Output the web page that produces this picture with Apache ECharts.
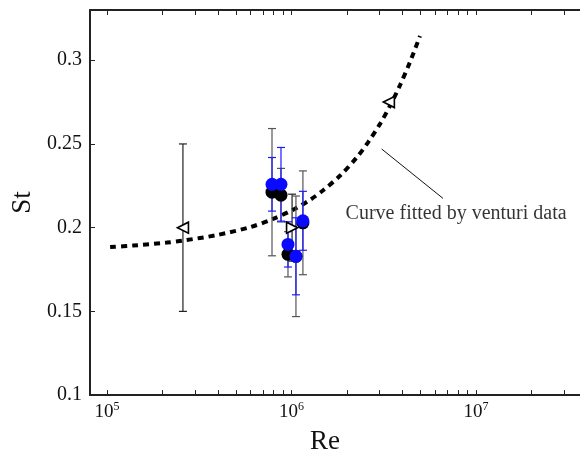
<!DOCTYPE html>
<html>
<head>
<meta charset="utf-8">
<script src="https://cdn.jsdelivr.net/npm/echarts@6/dist/echarts.min.js"></script>
<style>
  html, body { margin: 0; padding: 0; background: #fff; }
  #main { width: 580px; height: 460px; }
</style>
</head>
<body>
<div id="main"></div>
<script>
// fitted curve
var curveRe = [1.04e5, 1.38e5, 2.11e5, 2.58e5, 3.95e5, 5.96e5, 7.94e5, 1.045e6, 1.26e6,
               1.48e6, 1.83e6, 2.26e6, 2.60e6, 3.02e6, 3.42e6, 3.87e6, 4.39e6, 4.97e6];
var curveSt = [0.1884, 0.1893, 0.1911, 0.1923, 0.1956, 0.2003, 0.2052, 0.2113, 0.2166,
               0.2222, 0.2310, 0.2420, 0.2510, 0.2620, 0.2728, 0.2850, 0.2990, 0.3145];

// black circles + grey error bars
var blackRe = [7.84e5, 8.77e5, 1.153e6, 9.57e5, 1.057e6];
var blackSt = [0.2212, 0.2194, 0.2029, 0.1841, 0.1829];
var blackErr = [0.038, 0.016, 0.031, 0.0135, 0.036];

// blue circles + blue error bars
var blueRe = [7.84e5, 8.77e5, 1.153e6, 9.57e5, 1.057e6];
var blueSt = [0.2259, 0.2259, 0.2041, 0.190, 0.1829];
var blueErr = [0.016, 0.022, 0.0176, 0.0135, 0.023];

// venturi triangles
var triRe = [2.58e5, 1.007e6, 3.37e6];
var triSt = [0.2, 0.2, 0.275];
var triErr = [0.05, 0.02, 0];
var triRot = [90, -90, 90];

var yTicks = [0.1, 0.15, 0.2, 0.25, 0.3];
var xMajor = [1e5, 1e6, 1e7];
var xMinor = [1e5, 2e5, 3e5, 4e5, 5e5, 6e5, 7e5, 8e5, 9e5,
              1e6, 2e6, 3e6, 4e6, 5e6, 6e6, 7e6, 8e6, 9e6,
              1e7, 2e7, 3e7];

var noteText = 'Curve fitted by venturi data';

var font = 'Liberation Serif';

function zip(a, b) {
  return a.map(function (v, i) { return [v, b[i]]; });
}
function bars(re, st, err) {
  return re.map(function (v, i) { return [v, st[i] - err[i], st[i] + err[i]]; });
}

function errRender(color) {
  return function (params, api) {
    var lo = api.coord([api.value(0), api.value(1)]);
    var hi = api.coord([api.value(0), api.value(2)]);
    var w = 4;
    var style = { stroke: color, lineWidth: 1.2 };
    return {
      type: 'group',
      children: [
        { type: 'line', shape: { x1: lo[0], y1: lo[1], x2: hi[0], y2: hi[1] }, style: style },
        { type: 'line', shape: { x1: lo[0] - w, y1: lo[1], x2: lo[0] + w, y2: lo[1] }, style: style },
        { type: 'line', shape: { x1: hi[0] - w, y1: hi[1], x2: hi[0] + w, y2: hi[1] }, style: style }
      ]
    };
  };
}

var chart = echarts.init(document.getElementById('main'));

var xBase = {
  type: 'log',
  logBase: 10,
  min: 8.09e4,
  max: 3.66e7,
  axisLine: { lineStyle: { color: '#222', width: 2 } },
  axisTick: { inside: true, length: 5, customValues: xMinor, lineStyle: { color: '#222', width: 1 } },
  splitLine: { show: false },
  minorTick: { show: false }
};

var option = {
  animation: false,
  backgroundColor: '#fff',
  grid: { left: 90, right: 0, top: 10, bottom: 61 },
  xAxis: [
    Object.assign({}, xBase, {
      position: 'bottom',
      name: 'Re',
      nameLocation: 'middle',
      nameGap: 28,
      nameTextStyle: { fontFamily: font, fontSize: 27, color: '#111', verticalAlign: 'top', padding: [0, 20, 0, 0] },
      axisLabel: {
        customValues: xMajor,
        margin: 6,
        formatter: function (v) {
          return '{b|10}{s|' + Math.round(Math.log10(v)) + '}';
        },
        rich: {
          b: { fontFamily: font, fontSize: 19, color: '#111', lineHeight: 22 },
          s: { fontFamily: font, fontSize: 12, color: '#111', lineHeight: 22, verticalAlign: 'top', padding: [0, 0, 10, 0] }
        }
      }
    }),
    Object.assign({}, xBase, {
      position: 'top',
      axisLabel: { show: false }
    })
  ],
  yAxis: {
    type: 'value',
    min: 0.1,
    max: 0.33,
    name: 'St',
    nameLocation: 'middle',
    nameGap: 45,
    nameRotate: 90,
    nameTextStyle: { fontFamily: font, fontSize: 27, color: '#111' },
    axisLine: { show: true, lineStyle: { color: '#222', width: 2 } },
    axisTick: { show: true, inside: true, length: 5, customValues: yTicks, lineStyle: { color: '#222' } },
    axisLabel: {
      customValues: yTicks,
      margin: 8,
      fontFamily: font,
      fontSize: 20,
      color: '#111',
      formatter: function (v) { return String(v); }
    },
    splitLine: { show: false }
  },
  series: [
    {
      name: 'fit',
      type: 'line',
      data: zip(curveRe, curveSt),
      smooth: 0.3,
      symbol: 'none',
      lineStyle: { color: '#000', width: 4, type: [6, 5] },
      z: 1
    },
    {
      name: 'note',
      type: 'scatter',
      data: [[7.8e6, 0.2086]],
      symbolSize: 0,
      label: {
        show: true,
        position: 'inside',
        formatter: noteText,
        fontFamily: font,
        fontSize: 20,
        color: '#000'
      },
      markLine: {
        silent: true,
        symbol: ['none', 'arrow'],
        symbolSize: [0, 9],
        label: { show: false },
        lineStyle: { color: '#111', width: 1, type: 'solid' },
        data: [[{ coord: [6.62e6, 0.2175] }, { coord: [3.08e6, 0.247] }]]
      },
      z: 2
    },
    {
      name: 'tri bars',
      type: 'custom',
      renderItem: errRender('#222'),
      data: bars(triRe, triSt, triErr),
      z: 3
    },
    {
      name: 'black bars',
      type: 'custom',
      renderItem: errRender('#555'),
      data: bars(blackRe, blackSt, blackErr),
      z: 3
    },
    {
      name: 'blue bars',
      type: 'custom',
      renderItem: errRender('#1a1aff'),
      data: bars(blueRe, blueSt, blueErr),
      z: 4
    },
    {
      name: 'venturi',
      type: 'scatter',
      data: triRe.map(function (v, i) {
        return { value: [v, triSt[i]], symbolRotate: triRot[i] };
      }),
      symbol: 'triangle',
      symbolSize: 11,
      itemStyle: { color: '#fff', borderColor: '#000', borderWidth: 1.6, opacity: 1 },
      z: 5
    },
    {
      name: 'black',
      type: 'scatter',
      data: zip(blackRe, blackSt),
      symbolSize: 13,
      itemStyle: { color: '#000', opacity: 1 },
      z: 6
    },
    {
      name: 'blue',
      type: 'scatter',
      data: zip(blueRe, blueSt),
      symbolSize: 13,
      itemStyle: { color: '#0a0aff', opacity: 1 },
      z: 7
    }
  ]
};

chart.setOption(option);
</script>
</body>
</html>
